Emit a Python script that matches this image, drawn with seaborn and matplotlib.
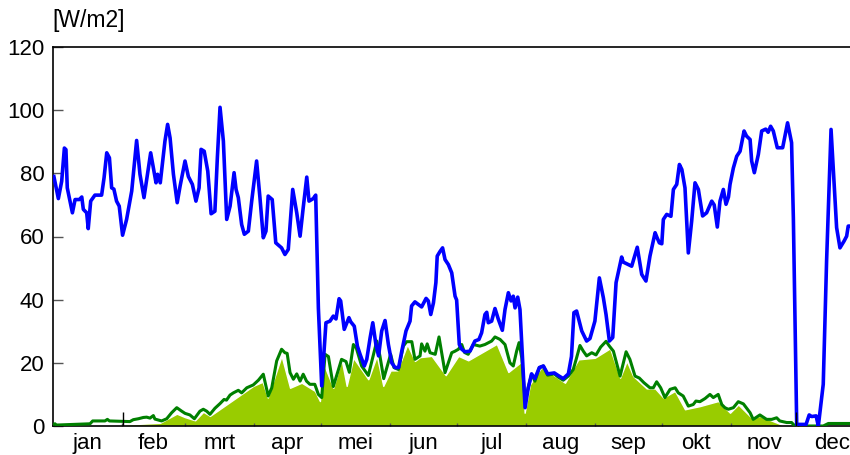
import matplotlib
matplotlib.use("Agg")
import matplotlib.pyplot as plt
import seaborn as sns
import pandas as pd
import numpy as np

# --- data (day of year, W/m2) ---
blue_days = [0.4, 2.4, 3.9, 5.1, 5.8, 6.4, 8.7, 9.9, 11.8, 12.9, 13.6, 15.1, 15.8, 16.9, 18.8, 21.8,
             22.9, 24.1, 25.3, 26.3, 27.3, 28.5, 29.7, 31.2, 33, 35.3, 37.5, 39, 40.8, 43.8, 46.2,
             46.9, 48.1, 50.2, 51.4, 52.5, 54, 55.7, 57, 59.2, 60.7, 62.5, 64.1, 65.5, 66.4, 67.8,
             69.4, 70.9, 72.6, 73.7, 74.9, 76.4, 77.9, 79.4, 81.2, 82.1, 83.1, 84.6, 85.8, 87.6,
             89.1, 91.3, 92.8, 94.3, 95.5, 96.5, 98.3, 99.9, 102.5, 104, 105.5, 107.5, 109.3, 110.8,
             112.2, 113.8, 114.8, 116.7, 117.8, 119, 120.5, 122.4, 124.2, 125.7, 126.9, 128.3, 129,
             130.6, 132.7, 133.5, 135.1, 136.5, 137.7, 139.6, 140.7, 142.2, 143.4, 144.8, 146, 147.4,
             148.9, 150.4, 151.9, 153.4, 155, 156.4, 158.3, 160.1, 160.8, 162.3, 163.8, 165.3, 167.3,
             168.3, 169.4, 170.6, 171.7, 172.3, 173.5, 174.7, 175.8, 177.3, 178.8, 180.3, 181, 182.2,
             183.3, 184.8, 187, 189.2, 191, 192.2, 193.7, 194.5, 195.2, 196.7, 198.2, 199.7, 201.5,
             202.7, 204.2, 205.4, 206.4, 207.2, 208.4, 209.4, 211.7, 213.1, 214.6, 216.1, 218.1,
             219.9, 221.8, 224.8, 226.5, 228.8, 231.1, 232.5, 233.6, 234.8, 237.1, 239.3, 240.8, 243,
             245, 246.8, 248, 249.5, 251, 252.5, 255, 255.7, 257.2, 259.5, 262, 264, 265.9, 267.7,
             270, 270.9, 271.9, 273, 273.7, 275.2, 277.1, 278.2, 279.7, 280.9, 282, 283.4, 284.9,
             286.4, 287.9, 289.4, 291.3, 293.1, 295.4, 296.5, 297.9, 299.1, 300.6, 301.8, 302.9,
             303.6, 305.1, 306.6, 308.1, 309.9, 311, 312.6, 313.3, 314.5, 316.3, 317.8, 319.6, 320.7,
             321.8, 323, 324.8, 327.2, 329.4, 331.2, 332, 333.5, 335, 337.7, 339.1, 340.2, 342.2,
             343.2, 345.4, 346.9, 348.9, 349.9, 351.4, 352.9, 354.7, 355.9, 356.6, 357.4]
blue_vals = [79, 72, 77.5, 88, 87.5, 75.4, 67.5, 71.7, 71.7, 72.5, 68.6, 67.5, 62.5, 71.2, 73.1, 73.1,
             78.6, 86.5, 84.9, 75.4, 75, 71.2, 69.6, 60.4, 65.4, 74.4, 90.4, 79.7, 72.3, 86.5, 77,
             79.7, 77, 90.2, 95.5, 91.2, 79.7, 70.7, 76, 83.9, 79, 76.5, 71.2, 75.4, 87.6, 87,
             80.7, 67.2, 68, 84.9, 100.9, 90.2, 65.4, 69.6, 80.2, 74.9, 72.3, 63.8, 60.7, 61.7,
             71.2, 83.9, 72.3, 59.6, 61.7, 72.8, 71.7, 58, 56.4, 54.3, 55.9, 74.9, 67.5, 60.1,
             69.1, 78.8, 71.2, 72, 73.1, 37.4, 12.7, 32.7, 33.2, 34.8, 33.9, 40.3, 39.6,
             30.6, 34.3, 33, 31.6, 25.3, 22.7, 19, 21.1, 27.9, 32.7, 25.8, 22.2, 30.1,
             33.4, 25.8, 20, 18.5, 18.5, 23.7, 30.1, 33.2, 38, 39.3, 38.5, 37.7, 40.4,
             39.6, 35.3, 39, 45.4, 53.8, 55.2, 56.4, 52.7, 51.1, 48.5, 41.1, 39.9, 25.8,
             24.3, 23.5, 23.7, 26.9, 27.4, 29.5, 35.3, 36, 32.7, 33.2, 37.2, 33.8, 30.3,
             36.9, 42.2, 39.6, 41.1, 37.4, 40.8, 36.9, 5.8, 12, 16.5, 15, 18.5,
             19, 16.5, 16.8, 16, 15, 16.5, 22, 35.9, 36.4, 30.1, 26.9, 27.7, 33.2,
             46.9, 40.6, 35.3, 26.9, 28, 45.4, 53.5, 51.9, 51.4, 50.6, 56.6, 48, 45.9, 53.8,
             61.2, 59.6, 58, 57.7, 65.4, 67, 66.4, 74.9, 76.5, 82.8, 81.2, 75.4, 54.8,
             64.9, 77, 74.9, 66.5, 67.5, 71.2, 70, 63, 71.2, 74.9, 70.2, 72.5,
             76.5, 81.7, 85.4, 87, 93.4, 91.8, 90.7, 83.9, 80.2, 86, 93.4, 94, 93,
             94.9, 93.4, 88.1, 88.1, 96, 89.7, 65.9, 0.5, 0.5, 0.5, 3.5, 3, 3.2,
             0, 13.2, 52.2, 93.9, 81.7, 62.8, 56.4, 58.5, 60.1, 63.3, 63.3]

green_days = [0, 0.9, 1.5, 16.6, 17.8, 23.3, 24.4, 25.3, 34.5, 36, 38.3, 40.5, 42, 43.5, 45, 45.7,
              48.7, 51, 53.2, 55.5, 57.7, 59.2, 61.4, 63.4, 65.9, 67.4, 68.9, 70.4, 72.6, 74.9,
              76.7, 77.8, 79.4, 80.9, 83.1, 84.6, 86.9, 89.8, 92.1, 94.3, 96.5, 98.1, 100.3, 102.5,
              104, 105, 106.3, 107.8, 109.3, 110.8, 112.2, 113.7, 115.2, 117.4, 119, 120.5, 122,
              123.5, 125.7, 129.4, 131.4, 132.9, 134.7, 136, 138.4, 141.4, 145.2, 146.6, 148.3,
              151.4, 152.9, 154.9, 157.1, 158.6, 160.9, 162.3, 164.6, 165.3, 166.8, 167.8, 169.1,
              171.4, 173.1, 175.8, 178.8, 180.3, 181.8, 183.3, 184.5, 186.2, 188.5, 191.4, 193.7,
              196.7, 198.2, 200.5, 202.7, 204.9, 206.4, 207.9, 209, 210.2, 211.7, 213.1, 214.6,
              216.1, 218.1, 219.9, 221.8, 224.8, 226.5, 228.8, 231.1, 233.3, 234.8, 236.3, 237.8,
              239.3, 241.6, 243.5, 245.6, 248, 249.5, 251.3, 254.3, 257, 258.7, 261, 262.9, 265,
              267.7, 269.2, 270.7, 272.5, 274.4, 276.7, 279, 280.4, 282.6, 284.9, 287.1, 288.3,
              290.1, 292.4, 294.6, 296.1, 298.3, 299.9, 301.3, 302.8, 305.1, 307.3, 309.6, 312.6,
              314, 317, 320, 322.3, 324.5, 325.9, 329, 331.2, 332.7, 345.4, 347.7, 357.4]
green_vals = [0.5, 0.7, 0.3, 0.7, 1.6, 1.6, 2.1, 1.6, 1.4, 2, 2.3, 2.7, 2.8, 2.5, 3.3, 2.2,
              1.6, 2.3, 4.2, 5.8, 4.7, 4, 3.5, 2.3, 4.7, 5.3, 4.7, 3.7, 5.6, 7.1,
              8.4, 8.2, 9.8, 10.5, 11.3, 10.5, 12.1, 13, 14.5, 16.4, 9.5, 12.1, 20.6, 24.3,
              23.2, 23, 16.9, 14.8, 16.5, 14.2, 16.4, 14.2, 13.2, 13.2, 10, 9, 22.7,
              22, 12.5, 21.1, 20.4, 17, 25.8, 24.7, 19, 16, 26.9, 22.2, 15,
              22.7, 18.5, 17.9, 25.3, 26.7, 26.7, 21.1, 22.2, 26, 23.7, 26, 23.2,
              22.7, 28.2, 16.9, 23.2, 23.7, 24.3, 25.8, 23.3, 22.7, 25.8, 25.3, 25.8,
              26.9, 28.2, 27.4, 25.8, 20, 19, 23.7, 26.4, 21.6, 7.9, 12.1, 16.4,
              14.2, 18.5, 19, 16.1, 16.5, 15.5, 14.5, 15.8, 17.9, 21.6, 25.5, 23.7,
              22.2, 23.2, 22.5, 25, 26.8, 25.3, 23.7, 15.8, 23.5, 21.1, 15.8, 15.2, 13.7,
              12.1, 12.1, 14, 12.1, 9, 11.6, 12.1, 10.5, 9.5, 6.3, 6.8, 7.9,
              7.7, 8.7, 10, 9, 10, 6.8, 5.8, 5.3, 5.8, 7.7, 7, 4.2,
              2.1, 3.5, 2.1, 2.1, 2.6, 1.6, 1.1, 1.1, 0, 0, 0.8, 0.8]

fill_days = [26.3, 27, 48, 55.5, 59.2, 63.7, 67.4, 70.4, 89.8, 94, 96.3, 102.5, 106.3, 111.5,
             117.5, 119.7, 121.2, 125.7, 129.4, 131.7, 134.7, 141.4, 145.2, 148.1, 151.4, 154.4,
             158.9, 162.3, 164.6, 169.8, 176.1, 181.8, 186.2, 199, 204.2, 210.5, 211.5, 213.9,
             219.1, 229.6, 235.6, 243, 249.8, 254.3, 257.3, 260.2, 266.2, 270, 273.7, 278.9,
             283.4, 290.1, 298.3, 303.6, 307.3, 313.3, 317, 328.3]
fill_vals = [0, 0.3, 1, 3.9, 2.8, 1.8, 4.5, 3.2, 12.7, 14, 9, 22.2, 12.1, 13.7,
             11.1, 7.9, 20, 12.1, 21.1, 12.7, 21.6, 14.8, 22.2, 12.7, 17.6, 17.6,
             25.8, 20.6, 21.8, 22.2, 16.1, 22.2, 20.8, 26, 17.1, 20.6, 4.2, 13.2,
             18.7, 13.7, 21.1, 21.6, 24.6, 15.3, 20.6, 15.8, 11.9, 11.9, 9, 11.1,
             5.3, 6.3, 7.9, 4.2, 6.8, 2.6, 3.2, 0]

month_labels = ["jan", "feb", "mrt", "apr", "mei", "jun", "jul", "aug", "sep", "okt", "nov", "dec"]
month_starts = [0, 31, 59, 90, 120, 151, 181, 212, 243, 273, 304, 334, 365]
marker_days = [31.4, 333.4]

df_blue = pd.DataFrame({"dag": blue_days, "W": blue_vals})
df_green = pd.DataFrame({"dag": green_days, "W": green_vals})

plt.rcParams['font.family'] = ['Liberation Sans', 'DejaVu Sans']

fig = plt.figure(figsize=(8.5, 4.55), dpi=100)
ax = fig.add_axes([53 / 850, 29 / 455, 797 / 850, 379 / 455])

# gevulde oppervlakte + lijnen
ax.fill_between(fill_days, fill_vals, 0, color="#99cc00", edgecolor="white", linewidth=1.0, zorder=1)
sns.lineplot(data=df_green, x="dag", y="W", ax=ax, color="#008000", linewidth=2.2,
             estimator=None, sort=False, zorder=3, solid_joinstyle="round")
sns.lineplot(data=df_blue, x="dag", y="W", ax=ax, color="#0000ff", linewidth=2.6,
             estimator=None, sort=False, zorder=4, solid_joinstyle="round")
ax.vlines(marker_days, 0, 4.5, color="black", linewidth=1.0, zorder=5)

ax.set_xlim(0, 357.4)
ax.set_ylim(0, 120)
ax.set_yticks(range(0, 121, 20))
ax.set_xticks(month_starts[1:-1])
ax.set_xticklabels([])
mids = [(a + b) / 2 for a, b in zip(month_starts[:-1], month_starts[1:])]
ax.set_xticks(mids, minor=True)
ax.set_xticklabels(month_labels, minor=True)

ax.tick_params(axis="y", direction="in", length=7, width=1, color="#555555",
               labelsize=16, pad=6)
ax.tick_params(axis="x", which="major", direction="in", length=2.5, width=1, color="#555555")
ax.tick_params(axis="x", which="minor", length=0, labelsize=16, pad=5)

for s in ["left", "bottom", "top"]:
    ax.spines[s].set_color("black")
    ax.spines[s].set_linewidth(1.2)
ax.spines["right"].set_visible(False)
ax.set_xlabel("")
ax.set_ylabel("")

fig.text(52 / 850, 1 - 21 / 455, "[W/m2]", fontsize=16.5, ha="left", va="center")

fig.savefig("out.png", dpi=100)
